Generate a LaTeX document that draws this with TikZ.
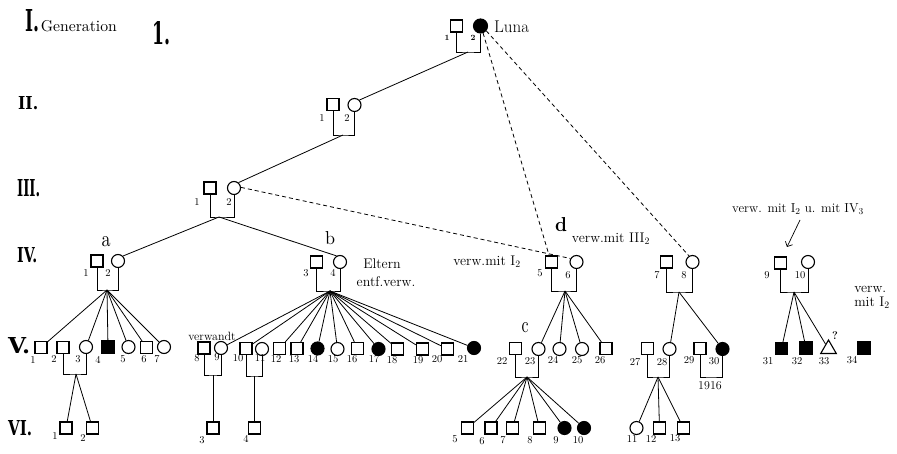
\documentclass[tikz,border=0pt]{standalone}
\usepackage{graphicx}
\usepackage{fontspec}
\newfontfamily\genfont{DejaVu Serif}
\usetikzlibrary{shapes.geometric,arrows.meta}
\newcommand\mylab[4]{\node[num] (#1) at (#2,#3) {#4};}
\newcommand\gentext[3]{\resizebox{#1pt}{#2pt}{\genfont\bfseries #3}}
\begin{document}
\begin{tikzpicture}[x=1pt,y=-1pt,
  sq/.style={draw,rectangle,minimum size=12pt,inner sep=0pt,line width=1.1pt},
  ci/.style={draw,circle,minimum size=13pt,inner sep=0pt,line width=1.1pt},
  fsq/.style={sq,fill=black},
  fci/.style={ci,fill=black},
  tri/.style={draw,regular polygon,regular polygon sides=3,minimum size=18pt,inner sep=0pt,line width=1.1pt},
  num/.style={font=\fontsize{10.5}{10.5}\selectfont,inner sep=0pt},
  sml/.style={font=\fontsize{8}{8}\selectfont\bfseries,inner sep=0pt},
  lett/.style={inner sep=0pt},
  txt/.style={font=\fontsize{14}{14}\selectfont,inner sep=0pt},
  ln/.style={line width=0.8pt},
  br/.style={line width=0.8pt},
  dsh/.style={line width=0.8pt,dash pattern=on 4pt off 3pt},
]
\useasboundingbox (0,0) rectangle (897,454);
\fill[white] (0,0) rectangle (897,454);

% ---- generation labels
\node[anchor=base west,inner sep=0pt] (g1) at (25,32) {\gentext{14}{22}{I.}\,\resizebox{76pt}{!}{Generation}};
\node[anchor=base west,inner sep=0pt] (one) at (152,45) {\gentext{18}{23}{1.}};
\node[anchor=base west,inner sep=0pt] (g2) at (18,110) {\gentext{20}{13}{II.}};
\node[anchor=base west,inner sep=0pt] (g3) at (17,197) {\gentext{23}{17}{III.}};
\node[anchor=base west,inner sep=0pt] (g4) at (17,263) {\gentext{20}{15}{IV.}};
\node[anchor=base west,inner sep=0pt] (g5) at (8,353) {\gentext{22}{16}{V.}};
\node[anchor=base west,inner sep=0pt] (g6) at (8,435) {\gentext{24}{15}{VI.}};

% ---- generation I
\node[sq] (i1) at (456.5,26) {};
\node[fci,minimum size=14pt] (i2) at (480.5,26) {};
\node[font=\fontsize{17}{17}\selectfont,anchor=west,inner sep=0pt] (luna) at (494,26.5) {Luna};
\node[sml] (li1) at (447,38) {1};
\node[sml] (li2) at (473,38) {2};

% ---- generation II
\node[sq] (ii1) at (333,104.5) {};
\node[ci] (ii2) at (354.5,105) {};
\mylab{lii1}{322}{118}{1}
\mylab{lii2}{347}{118}{2}

% ---- generation III
\node[sq] (iii1) at (210,188) {};
\node[ci] (iii2) at (234,188) {};
\mylab{liii1}{197}{202}{1}
\mylab{liii2}{229}{202}{2}

% ---- generation IV
\node[sq] (iv1) at (97,261) {};
\node[ci] (iv2) at (118,261) {};
\node[sq] (iv3) at (316.5,262) {};
\node[ci] (iv4) at (340,262) {};
\node[sq] (iv5) at (551.5,262) {};
\node[ci] (iv6) at (576.5,262) {};
\node[sq] (iv7) at (666.5,262) {};
\node[ci] (iv8) at (692.5,262) {};
\node[sq] (iv9) at (780.5,263) {};
\node[ci] (iv10) at (808,262) {};
\mylab{liv1}{86}{273}{1}
\mylab{liv2}{108}{273}{2}
\mylab{liv3}{306}{273}{3}
\mylab{liv4}{333}{273}{4}
\mylab{liv5}{540}{273}{5}
\mylab{liv6}{568}{275}{6}
\mylab{liv7}{657}{275}{7}
\mylab{liv8}{684}{275}{8}
\mylab{liv9}{767}{275}{9}
\mylab{liv10}{800}{275}{10}

\node[lett,anchor=base] (la) at (106,247) {\resizebox{9pt}{10pt}{a}};
\node[lett,anchor=base] (lb) at (330,245) {\resizebox{10pt}{13pt}{b}};
\node[lett,anchor=base] (lc) at (525,333) {\resizebox{7pt}{10pt}{c}};
\node[lett,anchor=base] (ld) at (561,232) {\resizebox{12pt}{14pt}{\bfseries d}};

% ---- generation V
\node[sq] (v1) at (41,347.5) {};
\node[sq] (v2) at (63,347.5) {};
\node[ci] (v3) at (86,347) {};
\node[fsq] (v4) at (108,347) {};
\node[ci] (v5) at (128.5,347) {};
\node[sq] (v6) at (146.5,347.5) {};
\node[ci] (v7) at (164,347) {};
\node[sq] (v8) at (204,348) {};
\node[ci] (v9) at (221,348) {};
\node[sq] (v10) at (246,348.5) {};
\node[ci] (v11) at (262,349) {};
\node[sq] (v12) at (279.5,348.5) {};
\node[sq] (v13) at (297,348.5) {};
\node[fci] (v14) at (317.5,348.5) {};
\node[ci] (v15) at (337.5,349) {};
\node[sq] (v16) at (357.5,348.5) {};
\node[fci] (v17) at (378.5,349) {};
\node[sq] (v18) at (397.5,349) {};
\node[sq] (v19) at (422.5,349) {};
\node[sq] (v20) at (447.5,349) {};
\node[fci] (v21) at (474,348) {};
\node[sq] (v22) at (515.5,348.5) {};
\node[ci] (v23) at (538.5,349) {};
\node[ci] (v24) at (559.5,349) {};
\node[ci] (v25) at (582,349) {};
\node[sq] (v26) at (606,348.5) {};
\node[sq] (v27) at (647.5,348.5) {};
\node[ci] (v28) at (669.5,349) {};
\node[sq] (v29) at (700,348.5) {};
\node[fci] (v30) at (722.5,349) {};
\node[fsq] (v31) at (781.5,348.5) {};
\node[fsq] (v32) at (806,348) {};
\node[tri] (v33) at (828.5,349) {};
\node[fsq] (v34) at (864,348) {};
\mylab{lv1}{33}{360}{1}
\mylab{lv2}{54}{359}{2}
\mylab{lv3}{78}{359}{3}
\mylab{lv4}{98}{360}{4}
\mylab{lv5}{123}{359}{5}
\mylab{lv6}{144}{359}{6}
\mylab{lv7}{157}{359}{7}
\mylab{lv8}{197}{358}{8}
\mylab{lv9}{217}{357}{9}
\mylab{lv10}{238}{358}{10}
\mylab{lv11}{260}{358}{11}
\mylab{lv12}{276}{359}{12}
\mylab{lv13}{294}{359}{13}
\mylab{lv14}{313}{359}{14}
\mylab{lv15}{333}{359}{15}
\mylab{lv16}{352}{359}{16}
\mylab{lv17}{374}{359}{17}
\mylab{lv18}{392}{360}{18}
\mylab{lv19}{418}{360}{19}
\mylab{lv20}{437}{359}{20}
\mylab{lv21}{463}{359}{21}
\mylab{lv22}{502}{361}{22}
\mylab{lv23}{530}{361}{23}
\mylab{lv24}{553}{360}{24}
\mylab{lv25}{577}{360}{25}
\mylab{lv26}{600}{360}{26}
\mylab{lv27}{635}{362}{27}
\mylab{lv28}{662}{362}{28}
\mylab{lv29}{689}{360}{29}
\mylab{lv30}{714}{361}{30}
\mylab{lv31}{768}{361}{31}
\mylab{lv32}{797}{361}{32}
\mylab{lv33}{824}{361}{33}
\mylab{lv34}{852}{360}{34}
\node[font=\fontsize{11}{11}\selectfont\bfseries,inner sep=0pt] (q) at (835,336) {?};

% ---- generation VI
\node[sq] (w1) at (66,428) {};
\node[sq] (w2) at (92.5,428) {};
\node[sq] (w3) at (213,428) {};
\node[sq] (w4) at (254.5,428) {};
\node[sq] (w5) at (467.5,428) {};
\node[sq] (w6) at (491,428) {};
\node[sq] (w7) at (512.5,428) {};
\node[sq] (w8) at (539.5,428) {};
\node[fci] (w9) at (564.5,428) {};
\node[fci] (w10) at (584,428) {};
\node[ci] (w11) at (636.5,428) {};
\node[sq] (w12) at (659.5,428) {};
\node[sq] (w13) at (683.5,428) {};
\mylab{lw1}{55}{436}{1}
\mylab{lw2}{83}{438}{2}
\mylab{lw3}{202}{440}{3}
\mylab{lw4}{246}{439}{4}
\mylab{lw5}{455}{439}{5}
\mylab{lw6}{482}{441}{6}
\mylab{lw7}{503}{440}{7}
\mylab{lw8}{530}{440}{8}
\mylab{lw9}{556}{440}{9}
\mylab{lw10}{578}{440}{10}
\mylab{lw11}{632}{439}{11}
\mylab{lw12}{651}{439}{12}
\mylab{lw13}{675}{438}{13}

% ---- texts
\node[txt] (t1) at (487,262) {verw.mit I\textsubscript{2}};
\node[txt] (t2) at (611,239) {verw.mit III\textsubscript{2}};
\node[font=\fontsize{13}{13}\selectfont,inner sep=0pt] (t3) at (798,209) {verw. mit I\textsubscript{2} u. mit IV\textsubscript{3}};
\node[font=\fontsize{14}{14}\selectfont,inner sep=0pt,align=left] (t4) at (872,297) {verw.\\mit I\textsubscript{2}};
\node[txt] (t5) at (382,264) {Eltern};
\node[txt] (t6) at (386,282) {entf.verw.};
\node[font=\fontsize{12}{12}\selectfont,inner sep=0pt] (t7) at (212,336) {verwandt};
\node[font=\fontsize{12}{12}\selectfont,inner sep=0pt] (t8) at (710,386) {1916};

% ---- marriage brackets and descent lines
\coordinate (mI) at (468,52);
\draw[br] (i1.south) |- (mI) -| (i2.south);
\draw[ln] (mI) -- (ii2.45);

\coordinate (mII) at (343,135);
\draw[br] (ii1.south) |- (mII) -| (ii2.south);
\draw[ln] (mII) -- (iii2.50);

\coordinate (mIII) at (219,217);
\draw[br] (iii1.south) |- (mIII) -| (iii2.south);
\draw[ln] (mIII) -- (iv2.45);
\draw[ln] (mIII) -- (iv4.120);

\draw[dsh] (i2.-70) -- (iv5.110);
\draw[dsh] (i2.-40) -- (iv8.120);
\draw[dsh] (iii2.5) -- (iv6.150);

\coordinate (mA) at (107,290);
\draw[br] (iv1.south) |- (mA) -| (iv2.south);
\foreach \c in {v1,v3,v4,v5,v6,v7} \draw[ln] (mA) -- (\c);

\coordinate (mB) at (330,291);
\draw[br] (iv3.south) |- (mB) -| (iv4.south);
\foreach \c in {v9,v10,v12,v13,v14,v15,v16,v17,v18,v19,v20,v21} \draw[ln] (mB) -- (\c);

\coordinate (mD) at (565,291);
\draw[br] (iv5.south) |- (mD) -| (iv6.south);
\foreach \c in {v23,v24,v25,v26} \draw[ln] (mD) -- (\c);

\coordinate (mE) at (679,292);
\draw[br] (iv7.south) |- (mE) -| (iv8.south);
\foreach \c in {v28,v30} \draw[ln] (mE) -- (\c);

\coordinate (mF) at (794,292);
\draw[br] (iv9.south) |- (mF) -| (iv10.south);
\foreach \c in {v31,v32,v33} \draw[ln] (mF) -- (\c);

\coordinate (m23) at (76,374);
\draw[br] (v2.south) |- (m23) -| (v3.south);
\foreach \c in {w1,w2} \draw[ln] (m23) -- (\c);

\coordinate (m89) at (213,375);
\draw[br] (v8.south) |- (m89) -| (v9.south);
\draw[ln] (m89) -- (w3);

\coordinate (m1011) at (254.5,376);
\draw[br] (v10.south) |- (m1011) -| (v11.south);
\draw[ln] (m1011) -- (w4);

\coordinate (mC) at (527,377);
\draw[br] (v22.south) |- (mC) -| (v23.south);
\foreach \c in {w5,w6,w7,w8,w9,w10} \draw[ln] (mC) -- (\c);

\coordinate (m2728) at (658,377);
\draw[br] (v27.south) |- (m2728) -| (v28.south);
\foreach \c in {w11,w12,w13} \draw[ln] (m2728) -- (\c);

\coordinate (m2930) at (711,377);
\draw[br] (v29.south) |- (m2930) -| (v30.south);

% ---- arrow
\coordinate (arS) at (800,220);
\coordinate (arE) at (787,247);
\draw[line width=0.7pt,-{Straight Barb[length=4pt,width=8pt]}] (arS) -- (arE);
\end{tikzpicture}
\end{document}
